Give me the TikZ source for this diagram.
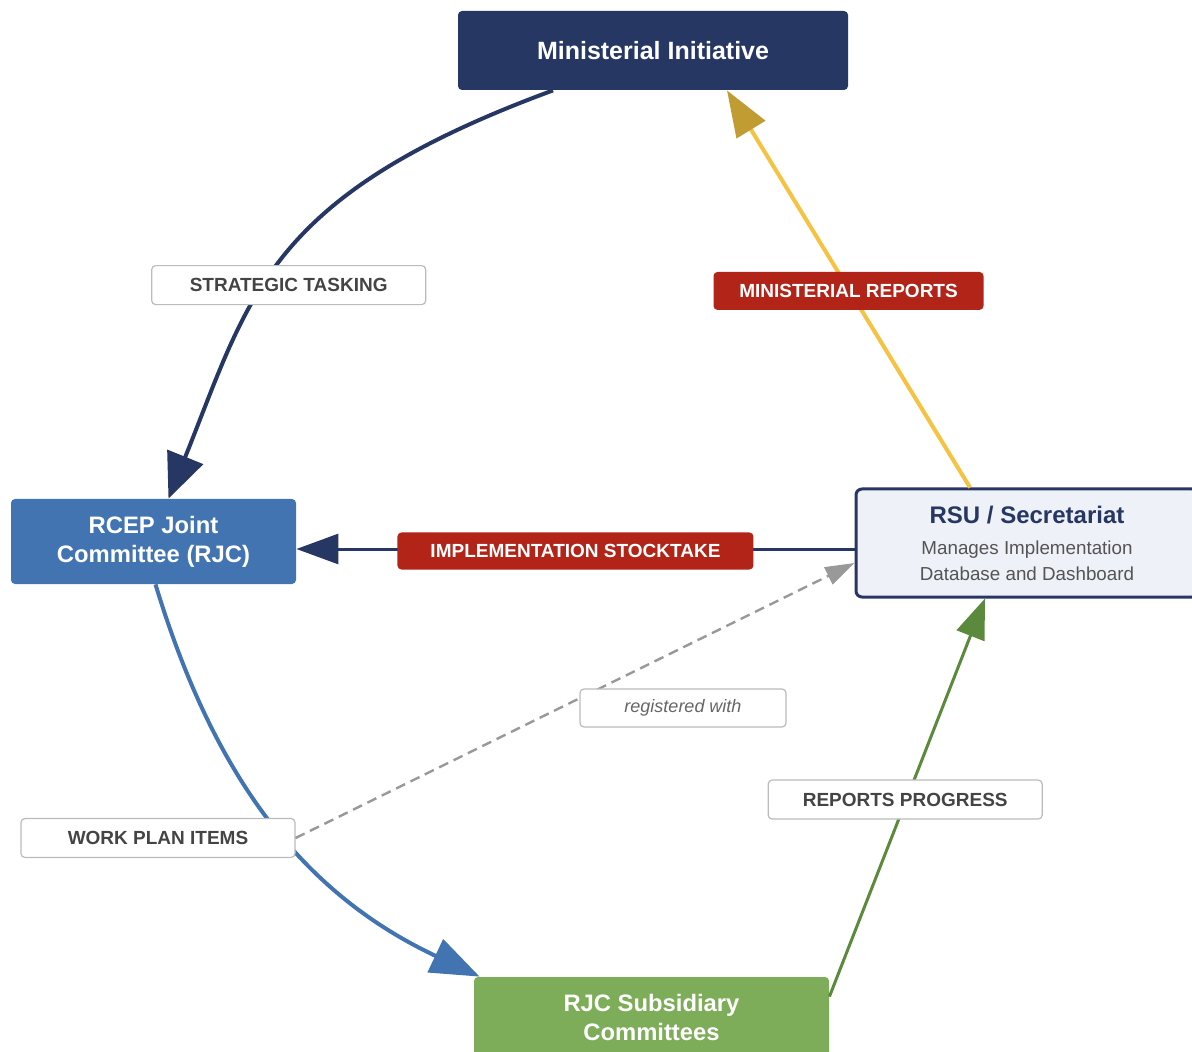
\documentclass[tikz,border=0pt]{standalone}
\usepackage{fontspec}
\setmainfont{Liberation Sans}
\usetikzlibrary{arrows.meta,calc}

\definecolor{navy}{HTML}{263763}
\definecolor{rjcblue}{HTML}{4274B2}
\definecolor{rsufill}{HTML}{EEF1F8}
\definecolor{subgreen}{HTML}{7DAD58}
\definecolor{linegreen}{HTML}{5B8A3D}
\definecolor{lineyellow}{HTML}{F5C242}
\definecolor{tipgold}{HTML}{C19C32}
\definecolor{tagred}{HTML}{B22418}
\definecolor{tagline}{HTML}{BBBBBB}
\definecolor{taggray}{HTML}{444444}
\definecolor{dashgray}{HTML}{999999}

\begin{document}
\begin{tikzpicture}[x=0.5pt,y=-0.5pt,
   box/.style={rounded corners=2pt,align=center,inner sep=0pt,text=white,
      font=\bfseries\fontsize{11.9}{14.5}\selectfont},
   tag/.style={draw=tagline,fill=white,line width=0.6pt,rounded corners=2pt,
      inner sep=0pt,minimum height=19.5pt,text=taggray,
      font=\bfseries\fontsize{9.5}{11}\selectfont},
   redtag/.style={fill=tagred,rounded corners=2pt,inner sep=0pt,
      minimum height=19pt,text=white,font=\bfseries\fontsize{9.5}{11}\selectfont},
   flow/.style={line width=#1},
   flow/.default=2pt]
\useasboundingbox (0,0) rectangle (1192,1052);

\node[box,fill=navy,minimum width=195pt,minimum height=39.5pt,
   font=\bfseries\fontsize{12.5}{15}\selectfont] (mi) at (653,50.5) {Ministerial Initiative};
\node[box,fill=rjcblue,minimum width=142.5pt,minimum height=42.5pt] (rjc) at (153.5,541.5)
   {RCEP Joint\\Committee (RJC)};
\node[draw=navy,line width=1.5pt,fill=rsufill,rounded corners=3pt,align=center,
   inner sep=0pt,minimum width=171pt,minimum height=54pt,text=black!67,
   font=\fontsize{9.4}{13}\selectfont] (rsu) at (1027,543)
   {{\color{navy}\bfseries\fontsize{12}{13}\selectfont RSU / Secretariat}\\[2.5pt]
    Manages Implementation\\Database and Dashboard};
\node[box,fill=subgreen,minimum width=177.5pt,minimum height=40pt] (sub) at (651.5,1017)
   {RJC Subsidiary\\Committees};

\draw[flow,navy,-{Triangle[length=22.5pt,width=19pt]}]
   ($(mi.south)+(-100,0)$) .. controls (266,196) and (250,296) .. ($(rjc.north)+(15,0)$)
   node[tag,pos=0.5,minimum width=137pt,xshift=2.5pt,yshift=-13.5pt] (st) {STRATEGIC TASKING};
\draw[flow,lineyellow,-{Triangle[length=23pt,width=16.5pt,color=tipgold]}]
   ($(rsu.north)+(-57,0)$) -- ($(mi.south)+(74,0)$)
   node[redtag,pos=0.5,minimum width=135pt,yshift=-1pt] (mr) {MINISTERIAL REPORTS};
\draw[flow=1.5pt,navy,-{Triangle[length=21pt,width=15pt]}]
   ($(rsu.west)+(0,6)$) -- ($(rjc.east)+(0,7.5)$)
   node[redtag,pos=0.5,minimum width=178pt,minimum height=18.5pt,yshift=-1pt] (is) {IMPLEMENTATION STOCKTAKE};
\draw[flow=1.5pt,linegreen,-{Triangle[length=20pt,width=14.7pt]}]
   ($(sub.north east)+(0,20)$) -- ($(rsu.south)+(-42,0)$)
   node[tag,pos=0.5,minimum width=137pt,xshift=-1pt,yshift=-1pt] (rp) {REPORTS PROGRESS};
\draw[flow,rjcblue,-{Triangle[length=24.5pt,width=18pt]}]
   ($(rjc.south)+(2,0)$) .. controls (214,777) and (302,893) .. ($(sub.north west)+(6,0)$);

\node[tag,minimum width=137pt] (wpi) at (158,838) {WORK PLAN ITEMS};
\draw[flow=1.2pt,dashgray,dash pattern=on 5pt off 3pt,-{Triangle[length=14.6pt,width=9.4pt]}]
   (wpi.east) -- ($(rsu.west)+(0,20)$);
\node[tag,minimum width=103pt,minimum height=19pt,text=black!60,
   font=\itshape\fontsize{9}{11}\selectfont] (rw) at (683,708) {registered with};
\end{tikzpicture}
\end{document}
